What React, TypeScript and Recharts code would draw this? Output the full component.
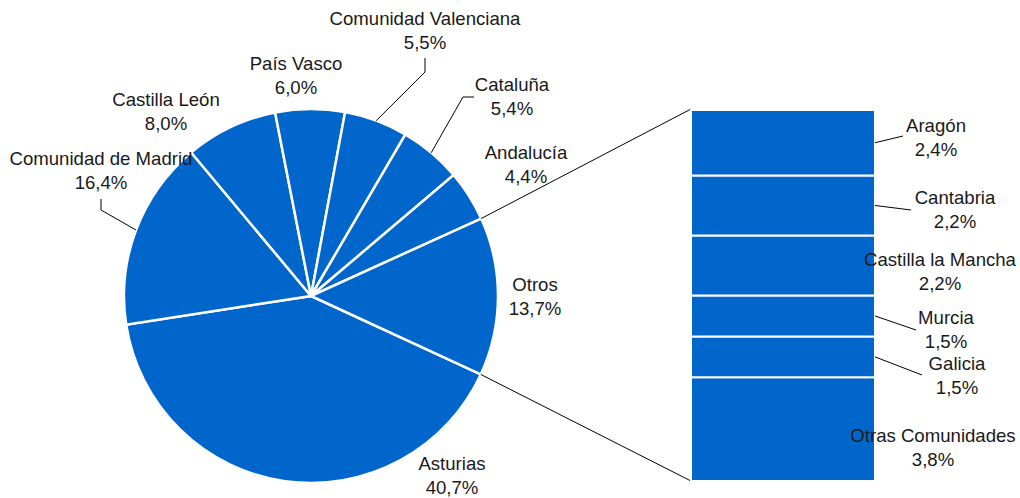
import { PieChart, Pie, Cell, BarChart, Bar, XAxis, YAxis } from "recharts";

// pie (clockwise from the Otros/Asturias boundary)
const pieNames = [
  "Asturias",
  "Comunidad de Madrid",
  "Castilla León",
  "País Vasco",
  "Comunidad Valenciana",
  "Cataluña",
  "Andalucía",
  "Otros",
];
const pieValues = [40.7, 16.4, 8.0, 6.0, 5.5, 5.4, 4.4, 13.7];

// breakdown of "Otros", top to bottom
const barNames = [
  "Aragón",
  "Cantabria",
  "Castilla la Mancha",
  "Murcia",
  "Galicia",
  "Otras Comunidades",
];
const barValues = [2.4, 2.2, 2.2, 1.5, 1.5, 3.8];

const W = 1020;
const H = 498;
const CX = 311;
const CY = 296;
const R = 187;
const START = -24.8;
const BAR_LEFT = 691;
const BAR_RIGHT = 875;
const BAR_TOP = 110;
const BAR_BOTTOM = 481;

const BLUE = "#0066cc";
const TEXT = "#1a1a1a";
const FONT = "'Liberation Sans', Arial, sans-serif";

// label placement (centre of first line) and optional leader elbow points
const pieLabelPos: Record<string, { x: number; y: number; leader?: number[][] }> = {
  Asturias: { x: 452, y: 463 },
  "Comunidad de Madrid": { x: 101, y: 158, leader: [[101, 210], [101, 199]] },
  "Castilla León": { x: 166, y: 99 },
  "País Vasco": { x: 296, y: 63 },
  "Comunidad Valenciana": { x: 425, y: 18, leader: [[425, 72], [425, 58]] },
  Cataluña: { x: 512, y: 84, leader: [[463, 97], [474, 97]] },
  Andalucía: { x: 526, y: 152 },
  Otros: { x: 535, y: 284 },
};

const barLabelPos: Record<string, { x: number; y: number; leader?: number[] }> = {
  Aragón: { x: 936, y: 125, leader: [903, 136] },
  Cantabria: { x: 955, y: 197, leader: [911, 210] },
  "Castilla la Mancha": { x: 940, y: 259 },
  Murcia: { x: 946, y: 317, leader: [916, 330] },
  Galicia: { x: 957, y: 363, leader: [922, 375] },
  "Otras Comunidades": { x: 933, y: 435 },
};

const pieData = pieNames.map((name, i) => ({ name, value: pieValues[i] }));
const pieTotal = pieValues.reduce((a, b) => a + b, 0);
const barTotal = barValues.reduce((a, b) => a + b, 0);

// one stacked column; Recharts stacks the first series at the bottom
const barRow: Record<string, any> = { name: "Otros" };
barNames.forEach((n, i) => (barRow[n] = barValues[i]));
const barData = [barRow];
const stackOrder = [...barNames].reverse();

const fmt = (v: number) => v.toFixed(1).replace(".", ",") + "%";

const RAD = Math.PI / 180;
const polar = (angle: number, r: number) => [
  CX + r * Math.cos(-angle * RAD),
  CY + r * Math.sin(-angle * RAD),
];

function sliceAngles(index: number) {
  const before = pieValues.slice(0, index).reduce((a, b) => a + b, 0);
  const start = START - (360 * before) / pieTotal;
  const end = start - (360 * pieValues[index]) / pieTotal;
  return { start, end, mid: (start + end) / 2 };
}

function TwoLines({ x, y, name, value }: { x: number; y: number; name: string; value: number }) {
  return (
    <g fontFamily={FONT} fontSize={18.6} fill={TEXT} textAnchor="middle">
      <text x={x} y={y} dy="0.35em">
        {name}
      </text>
      <text x={x} y={y + 24.5} dy="0.35em">
        {fmt(value)}
      </text>
    </g>
  );
}

function renderPieLabel(props: any) {
  const index = props.index as number;
  const name = pieNames[index];
  const pos = pieLabelPos[name];
  const { start, end, mid } = sliceAngles(index);
  let leader = null;
  if (pos.leader) {
    const p0 = polar(mid, R);
    const pts = [p0, ...pos.leader].map((p) => p.join(",")).join(" ");
    leader = <polyline points={pts} fill="none" stroke="#000" strokeWidth={1} />;
  }
  let connectors = null;
  if (name === "Otros") {
    const a = polar(start, R);
    const b = polar(end, R);
    connectors = (
      <g stroke="#000" strokeWidth={1}>
        <line x1={a[0]} y1={a[1]} x2={BAR_LEFT} y2={BAR_TOP - 1} />
        <line x1={b[0]} y1={b[1]} x2={BAR_LEFT} y2={BAR_BOTTOM} />
      </g>
    );
  }
  return (
    <g key={name}>
      {connectors}
      {leader}
      <TwoLines x={pos.x} y={pos.y} name={name} value={pieValues[index]} />
    </g>
  );
}

function renderBarLabel(props: any, name: string, value: number) {
  const pos = barLabelPos[name];
  const right = Number(props.x) + Number(props.width);
  const midY = Number(props.y) + Number(props.height) / 2;
  return (
    <g key={name}>
      {pos.leader && (
        <line x1={right} y1={midY} x2={pos.leader[0]} y2={pos.leader[1]} stroke="#000" strokeWidth={1} />
      )}
      <TwoLines x={pos.x} y={pos.y} name={name} value={value} />
    </g>
  );
}

export default function App() {
  return (
    <div style={{ position: "absolute", left: 0, top: 0, width: W, height: H, background: "#fff" }}>
      <div style={{ position: "absolute", left: 0, top: 0 }}>
        <PieChart width={W} height={H} margin={{ top: 0, right: 0, bottom: 0, left: 0 }}>
          <Pie
            data={pieData}
            dataKey="value"
            nameKey="name"
            cx={CX}
            cy={CY}
            outerRadius={R}
            startAngle={START}
            endAngle={START - 360}
            stroke="#fff"
            strokeWidth={2.5}
            label={renderPieLabel}
            labelLine={false}
            isAnimationActive={false}
          >
            {pieData.map((d) => (
              <Cell key={d.name} fill={BLUE} />
            ))}
          </Pie>
        </PieChart>
      </div>
      <div style={{ position: "absolute", left: 0, top: 0 }}>
        <BarChart
          width={W}
          height={H}
          data={barData}
          margin={{ top: BAR_TOP, right: W - BAR_RIGHT, bottom: H - BAR_BOTTOM, left: BAR_LEFT }}
          barCategoryGap={0}
          barGap={0}
        >
          <XAxis dataKey="name" hide />
          <YAxis type="number" domain={[0, barTotal]} hide />
          {stackOrder.map((n) => (
            <Bar
              key={n}
              dataKey={n}
              stackId="otros"
              fill={BLUE}
              stroke="#fff"
              strokeWidth={2}
              isAnimationActive={false}
              label={(p: any) => renderBarLabel(p, n, barValues[barNames.indexOf(n)])}
            />
          ))}
        </BarChart>
      </div>
    </div>
  );
}
